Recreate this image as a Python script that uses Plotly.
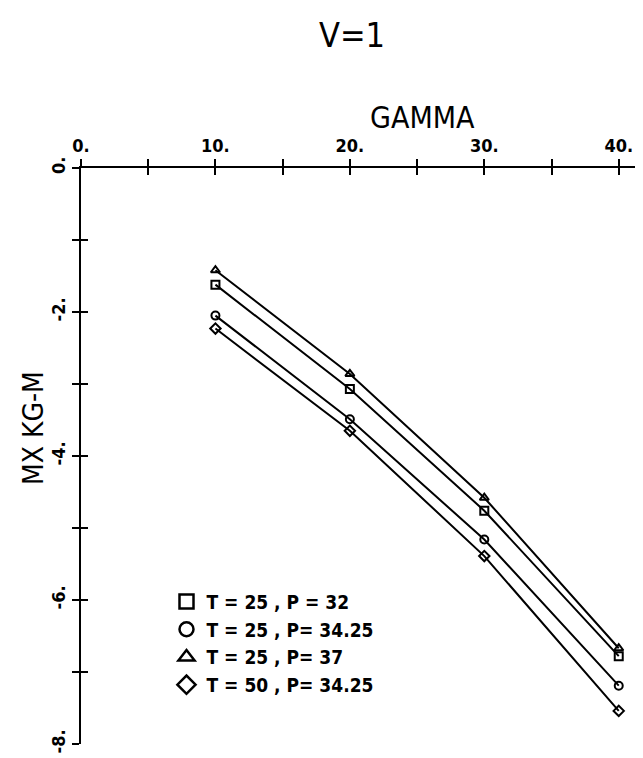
import plotly.graph_objects as go

# ---- data ----
gamma = [10, 20, 30, 40]
mx_t25_p32 = [-1.62, -3.07, -4.76, -6.78]
mx_t25_p3425 = [-2.05, -3.49, -5.16, -7.19]
mx_t25_p37 = [-1.42, -2.86, -4.58, -6.67]
mx_t50_p3425 = [-2.23, -3.65, -5.39, -7.54]

series_names = ["T = 25 , P = 32", "T = 25 , P= 34.25", "T = 25 , P= 37", "T = 50 , P= 34.25"]
series_values = [mx_t25_p32, mx_t25_p3425, mx_t25_p37, mx_t50_p3425]
symbols = ["square-open", "circle-open", "triangle-up-open", "diamond-open"]

x_tickvals = [0, 10, 20, 30, 40]
x_ticktext = ["0.", "10.", "20.", "30.", "40."]
y_tickvals = [0, -2, -4, -6, -8]
y_ticktext = ["0.", "-2.", "-4.", "-6.", "-8."]

FONT = "DejaVu Sans Condensed, DejaVu Sans, Liberation Sans Narrow, sans-serif"

fig = go.Figure()
for name, vals, sym in zip(series_names, series_values, symbols):
    fig.add_trace(go.Scatter(
        x=gamma, y=vals, mode="lines+markers", showlegend=False,
        line=dict(color="black", width=2),
        marker=dict(symbol=sym, size=8, color="black", line=dict(color="black", width=2)),
    ))
# legend-only entries (symbols without lines)
for name, sym in zip(series_names, symbols):
    fig.add_trace(go.Scatter(
        x=[None], y=[None], mode="markers", name=name,
        marker=dict(symbol=sym, size=14, color="black", line=dict(color="black", width=2.5)),
    ))

XR = [0, 42.4]
YR = [-8, 0]
L, T, B = 73, 160, 22
PW, PH = 643 - L, 758 - T - B

tickfont = dict(family=FONT, size=18, color="black", weight="bold")

fig.update_layout(
    width=643, height=758,
    margin=dict(l=L, r=0, t=T, b=B),
    paper_bgcolor="white", plot_bgcolor="white",
    showlegend=True,
    legend=dict(x=0.15, y=0.28, xanchor="left", yanchor="top",
                bgcolor="rgba(0,0,0,0)", font=dict(family=FONT, size=19, color="black", weight="bold"),
                itemsizing="trace", tracegroupgap=0),
    xaxis=dict(range=XR, side="top", showgrid=False, zeroline=False,
               showline=True, linecolor="black", linewidth=2,
               tickvals=x_tickvals, ticktext=x_ticktext,
               ticks="outside", ticklen=7, tickwidth=2, tickcolor="black",
               minor=dict(dtick=5, ticks="outside", ticklen=7, tickwidth=2, tickcolor="black"),
               tickfont=tickfont),
    yaxis=dict(range=YR, showgrid=False, zeroline=False,
               showline=True, linecolor="black", linewidth=2,
               tickvals=y_tickvals, ticktext=y_ticktext, tickangle=-90,
               ticks="outside", ticklen=7, tickwidth=2, tickcolor="black",
               minor=dict(dtick=1, ticks="outside", ticklen=7, tickwidth=2, tickcolor="black"),
               tickfont=tickfont),
    xaxis2=dict(range=XR, overlaying="x", side="top", showgrid=False, zeroline=False,
                showline=False, showticklabels=False, tickvals=x_tickvals,
                ticks="inside", ticklen=7, tickwidth=2, tickcolor="black",
                minor=dict(dtick=5, ticks="inside", ticklen=7, tickwidth=2, tickcolor="black")),
    yaxis2=dict(range=YR, overlaying="y", side="left", showgrid=False, zeroline=False,
                showline=False, showticklabels=False, tickvals=y_tickvals,
                ticks="inside", ticklen=7, tickwidth=2, tickcolor="black",
                minor=dict(dtick=1, ticks="inside", ticklen=7, tickwidth=2, tickcolor="black")),
    annotations=[
        dict(text="V=1", xref="paper", yref="paper", x=(344 - L) / PW, y=(758 - B - 27) / PH,
             xanchor="center", yanchor="middle", showarrow=False,
             font=dict(family=FONT, size=34, color="black")),
        dict(text="GAMMA", xref="paper", yref="paper", x=(414 - L) / PW, y=(758 - B - 110) / PH,
             xanchor="center", yanchor="middle", showarrow=False,
             font=dict(family=FONT, size=30, color="black")),
        dict(text="MX KG-M", xref="paper", yref="paper", x=(25 - L) / PW, y=(758 - B - 420) / PH,
             xanchor="center", yanchor="middle", showarrow=False, textangle=-90,
             font=dict(family=FONT, size=28, color="black")),
    ],
)
# dummy invisible trace so the overlay axes are drawn
fig.add_trace(go.Scatter(x=[None], y=[None], xaxis="x2", yaxis="y2", showlegend=False, hoverinfo="skip"))

fig.write_html("out.html")
